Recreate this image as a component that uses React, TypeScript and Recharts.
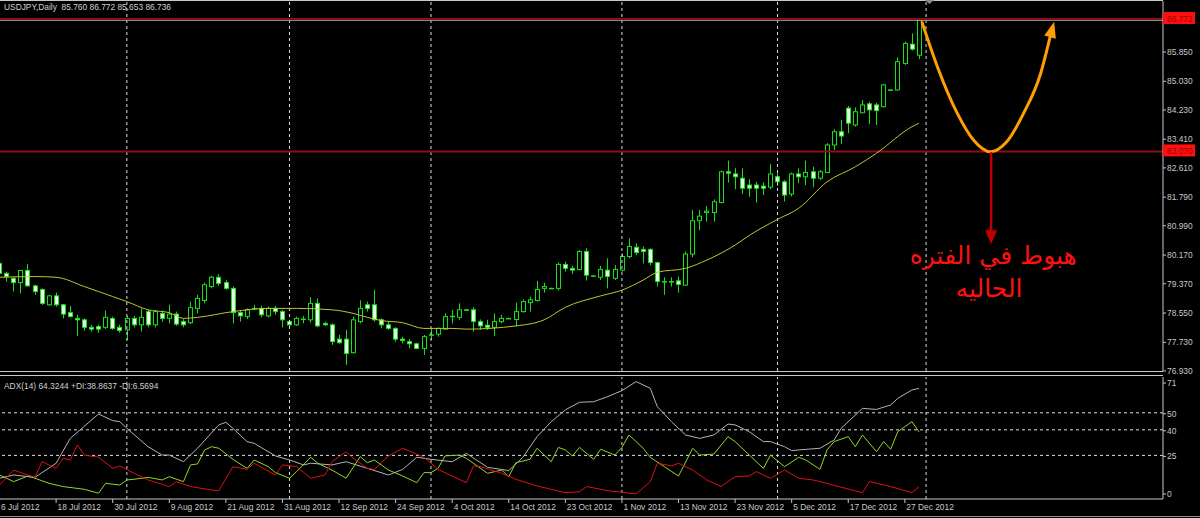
import React from 'react';
import { ComposedChart, Bar, Line, XAxis, YAxis, ReferenceLine, ReferenceDot } from 'recharts';

const SLOTS = 165;

const opens = [79.94,79.66,79.52,79.40,79.74,79.31,79.21,78.78,79.03,78.78,78.56,78.40,78.36,78.15,78.17,78.15,78.40,78.15,78.08,78.40,78.22,78.59,78.22,78.54,78.40,78.52,78.31,78.28,78.68,78.90,79.29,79.55,79.40,79.24,78.56,78.45,78.68,78.68,78.47,78.68,78.59,78.31,78.22,78.38,78.36,78.82,78.26,78.22,77.82,77.82,77.44,78.31,78.78,78.78,78.36,78.22,78.12,77.82,77.75,77.69,77.56,77.93,77.96,78.10,78.45,78.43,78.64,78.64,78.31,78.21,78.15,78.31,78.40,78.37,78.59,78.84,78.90,79.24,79.24,79.24,79.91,79.80,79.77,80.27,79.59,79.55,79.75,79.52,79.75,80.13,80.39,80.33,80.33,79.96,79.43,79.43,79.45,79.33,80.20,81.13,81.36,81.36,81.64,82.50,82.44,82.32,82.13,82.13,82.10,82.07,82.36,82.22,81.88,82.44,82.36,82.50,82.32,82.48,83.25,83.62,84.28,83.81,84.15,84.40,84.37,84.32,84.79,84.79,85.53,86.07,85.76];
const highs = [80.02,79.71,79.55,79.75,79.92,79.34,79.24,79.06,79.12,78.80,78.75,78.50,78.40,78.22,78.22,78.62,78.45,78.22,78.47,78.47,78.68,78.64,78.64,78.62,78.78,78.59,78.38,78.87,79.06,79.40,79.59,79.64,79.47,79.29,78.64,78.68,78.78,78.75,78.73,78.75,78.64,78.36,78.45,78.47,78.99,78.96,78.31,78.26,77.94,78.08,78.45,78.91,78.87,79.20,78.40,78.31,78.15,77.89,77.82,77.72,77.94,78.12,78.15,78.54,78.64,78.82,78.66,78.71,78.37,78.36,78.54,78.50,78.42,78.84,78.93,79.01,79.45,79.40,79.26,79.96,79.99,79.87,80.31,80.36,79.60,79.87,80.08,79.89,80.22,80.64,80.50,80.41,80.36,79.99,79.55,79.55,79.57,80.27,81.43,81.43,81.54,81.73,82.53,82.81,82.60,82.60,82.29,82.22,82.20,82.72,82.50,82.27,82.48,82.60,82.81,82.64,82.55,83.30,83.69,83.95,84.34,84.30,84.51,84.46,84.43,84.96,84.80,85.70,86.14,86.37,86.772];
const lows = [79.62,79.43,79.15,79.10,79.29,79.06,78.78,78.75,78.73,78.40,78.43,77.91,78.06,78.03,78.00,78.10,78.08,78.00,77.80,78.15,78.03,78.15,78.15,78.31,78.26,78.19,78.15,78.24,78.54,78.82,79.24,79.31,79.20,78.26,78.31,78.38,78.64,78.43,78.43,78.50,78.15,78.17,78.19,78.26,78.28,78.15,78.19,77.66,77.69,77.10,77.42,78.26,78.59,78.31,78.12,78.08,77.75,77.70,77.56,77.54,77.38,77.80,77.89,78.08,78.26,78.36,78.62,78.03,78.08,78.08,77.91,78.26,78.38,78.17,78.56,78.59,78.87,79.12,79.22,79.18,79.71,79.64,79.74,79.46,79.57,79.47,79.24,79.47,79.71,80.08,80.17,79.94,79.89,79.29,79.06,79.29,79.12,79.31,80.11,80.87,81.11,81.11,81.62,82.20,82.01,81.88,81.80,81.64,81.85,82.01,82.10,81.67,81.81,82.18,82.13,82.07,82.27,82.46,83.11,83.28,83.58,83.76,84.14,83.84,83.81,84.30,84.77,84.77,85.49,85.89,85.653];
const closes = [79.66,79.57,79.40,79.74,79.31,79.15,78.82,79.03,78.78,78.52,78.45,78.36,78.15,78.10,78.10,78.43,78.12,78.06,78.40,78.22,78.43,78.22,78.59,78.40,78.52,78.24,78.22,78.70,78.96,79.34,79.55,79.38,79.24,78.56,78.47,78.64,78.67,78.50,78.68,78.59,78.36,78.22,78.40,78.37,78.82,78.19,78.22,77.75,77.72,77.42,78.36,78.68,78.68,78.36,78.22,78.12,77.82,77.78,77.69,77.56,77.89,77.94,78.12,78.45,78.46,78.64,78.63,78.31,78.19,78.15,78.31,78.40,78.40,78.59,78.87,78.92,79.21,79.29,79.24,79.91,79.80,79.75,80.27,79.61,79.59,79.77,79.57,79.77,80.13,80.41,80.24,80.27,79.96,79.43,79.42,79.42,79.35,80.20,81.13,81.26,81.40,81.66,82.50,82.46,82.36,82.04,82.04,82.04,82.04,82.44,82.22,81.85,82.44,82.36,82.48,82.32,82.50,83.25,83.62,83.50,83.86,84.18,84.37,84.23,84.21,84.93,84.79,85.58,86.09,85.93,86.736];

const maPoints: [number, number][] = [[0,79.55],[5,79.57],[8,79.55],[12,79.29],[14,79.15],[18,78.87],[21,78.64],[24,78.56],[26,78.40],[28,78.43],[33,78.59],[38,78.68],[42,78.68],[47,78.64],[50,78.54],[52,78.43],[54,78.34],[57,78.28],[60,78.12],[64,78.12],[66,78.10],[73,78.19],[77,78.36],[80,78.71],[85,79.03],[88,79.19],[91,79.47],[93,79.69],[97,79.80],[100,80.03],[104,80.45],[106,80.72],[110,81.17],[113,81.48],[117,82.22],[121,82.64],[124,83.02],[129,83.76],[130,83.86]];

const adxPoints: [number, number][] = [[0,11.6],[2,13.5],[5,12.1],[8,20.4],[10,35.0],[14,49.3],[16,45.4],[17,44.8],[18,40.9],[21,30.1],[23,25.2],[24,25.2],[26,21.3],[28,29.2],[31,42.9],[32,44.4],[33,40.9],[35,33.1],[36,32.1],[39,24.7],[41,22.3],[43,19.4],[44,20.4],[47,19.4],[49,21.3],[52,17.4],[55,13.5],[57,16.8],[59,23.9],[61,22.7],[64,21.3],[66,26.2],[69,18.0],[72,16.1],[74,23.9],[76,36.0],[78,44.8],[80,51.7],[82,56.2],[84,56.5],[86,59.5],[88,63.0],[90,68.3],[92,64.4],[93,53.6],[95,44.8],[97,37.0],[99,35.0],[101,37.0],[103,43.4],[104,42.9],[106,38.9],[108,33.1],[109,33.1],[111,30.1],[112,27.8],[113,28.2],[116,29.2],[118,34.0],[119,40.9],[122,52.6],[124,52.0],[126,54.6],[127,58.5],[129,63.4],[130,64.32]];

const plusDiPoints: [number, number][] = [[0,13.5],[2,9.6],[4,12.9],[5,11.6],[7,8.6],[9,6.7],[12,5.1],[14,2.8],[15,8.6],[17,7.6],[18,10.6],[19,11.0],[21,12.1],[23,10.6],[24,12.5],[26,9.6],[27,19.4],[28,20.0],[29,28.2],[30,30.1],[31,29.2],[33,22.7],[35,17.4],[36,22.3],[38,18.4],[39,14.9],[41,11.6],[42,15.5],[44,23.9],[45,20.4],[47,16.4],[49,11.6],[51,24.3],[52,20.7],[53,22.3],[55,16.4],[57,12.9],[59,9.0],[60,14.9],[61,14.9],[62,17.4],[63,24.7],[65,25.2],[66,23.3],[69,14.5],[71,16.4],[72,12.5],[73,20.7],[75,22.7],[76,29.2],[78,21.3],[79,29.7],[80,28.2],[81,24.7],[82,29.7],[84,22.7],[85,28.6],[87,25.2],[88,29.7],[89,37.0],[91,29.2],[92,23.9],[94,18.4],[96,12.9],[98,29.2],[99,25.2],[101,25.8],[103,36.0],[104,33.1],[106,25.2],[108,17.4],[109,25.2],[111,18.4],[113,23.9],[114,22.3],[116,16.8],[117,28.2],[118,33.1],[120,36.0],[121,30.1],[122,37.0],[124,27.2],[125,33.1],[126,28.6],[127,38.9],[129,44.8],[130,38.86]];

const minusDiPoints: [number, number][] = [[0,7.6],[2,16.4],[5,12.1],[6,21.3],[8,17.4],[9,23.3],[10,22.3],[11,31.1],[12,25.2],[14,23.9],[16,17.4],[17,18.8],[19,14.5],[21,10.6],[24,6.7],[25,9.6],[27,6.7],[30,4.7],[31,4.3],[33,18.4],[35,16.8],[36,20.4],[39,13.5],[40,19.4],[42,18.4],[44,11.6],[46,13.5],[47,21.3],[49,27.2],[50,23.3],[52,17.4],[53,16.8],[55,24.7],[57,29.2],[60,23.9],[62,16.8],[66,9.0],[67,18.8],[68,18.4],[71,14.5],[73,11.0],[76,7.1],[80,3.1],[82,3.7],[83,6.7],[86,4.3],[90,2.4],[92,9.6],[93,20.4],[95,18.8],[96,20.4],[98,16.4],[100,10.6],[102,6.7],[104,12.5],[106,12.9],[107,15.5],[109,11.6],[111,16.4],[113,11.6],[115,10.6],[116,9.6],[122,3.1],[123,9.6],[126,6.7],[129,3.1],[130,6.57]];

const priceTicks = [85.85, 85.03, 84.23, 83.41, 82.61, 81.79, 80.99, 80.17, 79.37, 78.55, 77.73, 76.93];
const markedLevels = [86.772, 83.07];
const bidPrice = 86.736;
const adxTicks = [0, 25, 40, 50, 71];
const adxLevels = [25, 40, 50];
const dateTicks = [0, 8, 16, 24, 32, 40, 48, 56, 64, 72, 80, 88, 96, 104, 112, 120, 128];
const dateLabels = ['6 Jul 2012', '18 Jul 2012', '30 Jul 2012', '9 Aug 2012', '21 Aug 2012', '31 Aug 2012', '12 Sep 2012', '24 Sep 2012', '4 Oct 2012', '14 Oct 2012', '23 Oct 2012', '1 Nov 2012', '13 Nov 2012', '23 Nov 2012', '5 Dec 2012', '17 Dec 2012', '27 Dec 2012'];
const monthStarts = [18, 41, 61, 88, 110, 131];

const curvePoints: [number, number][] = [[130.4,86.70],[132.6,85.44],[135.4,84.14],[137.7,83.39],[140.1,83.06],[142.4,83.34],[144.8,84.14],[147.2,85.25],[148.6,86.32]];
const dropArrow: [number, number][] = [[140.2,83.05],[140.2,80.84]];
const noteLines = ['هبوط في الفتره', 'الحاليه'];
const notePos: [number, number][] = [[140.5, 79.92], [139.9, 79.0]];

const headerText = 'USDJPY,Daily  85.760 86.772 85.653 86.736';
const adxText = 'ADX(14) 64.3244 +DI:38.8637 -DI:6.5694';

const rows = Array.from({ length: SLOTS }, (_, k) =>
  k < opens.length ? { k, o: opens[k], h: highs[k], l: lows[k], c: closes[k] } : { k }
);
const toXY = (pts: [number, number][]) => pts.map(([k, v]) => ({ k, v }));

const FONT = '"Liberation Sans", Arial, sans-serif';
const TXT = '#c8c8c8';
const GREEN = '#18e018';
const BEAR_FILL = '#e6ffe6';
const GRID = '#dcdcdc';

function Candle(props: any) {
  const { x, y, width, height, payload } = props;
  if (!payload || payload.h == null) return <g />;
  const { o, h, l, c } = payload;
  const top0 = Math.min(y, y + height);
  const hh = Math.abs(height);
  const cx = Math.floor(x + width / 2) + 0.5;
  const py = (p: number) => top0 + ((h - p) / (h - l)) * hh;
  const bt = py(Math.max(o, c));
  const bb = py(Math.min(o, c));
  const bull = c >= o;
  return (
    <g>
      <line x1={cx} x2={cx} y1={top0} y2={top0 + hh} stroke={GREEN} strokeWidth={1} />
      <rect x={cx - 2} y={bt} width={4} height={Math.max(bb - bt, 0.5)} fill={bull ? '#000' : BEAR_FILL} stroke={GREEN} strokeWidth={1} />
    </g>
  );
}

function PriceTick(props: any) {
  const { x, y, payload } = props;
  const v = payload.value as number;
  const marked = markedLevels.includes(v);
  return (
    <g>
      {marked ? (
        <rect x={x - 4} y={y - 7} width={32} height={12} fill="#ff1010" />
      ) : (
        <line x1={x - 4} x2={x - 1} y1={y} y2={y} stroke={TXT} />
      )}
      <text x={x} y={y} dy="0.35em" fill={marked ? '#a00000' : TXT} fontSize={8.4} fontFamily={FONT} textAnchor="start">
        {v.toFixed(3)}
      </text>
    </g>
  );
}

function AdxTick(props: any) {
  const { x, y, payload } = props;
  const v = payload.value as number;
  const nudge = v === 71 ? 6 : v === 0 ? -4 : 1;
  return (
    <g>
      <line x1={x - 4} x2={x - 1} y1={y + nudge} y2={y + nudge} stroke={TXT} />
      <text x={x} y={y + nudge} dy="0.35em" fill={TXT} fontSize={8.4} fontFamily={FONT} textAnchor="start">
        {String(v)}
      </text>
    </g>
  );
}

function DateTick(props: any) {
  const { x, y, payload } = props;
  const i = dateTicks.indexOf(payload.value);
  return (
    <g>
      <line x1={x} x2={x} y1={y} y2={y + 4} stroke={TXT} />
      <text x={x + 1.5} y={y + 8} dy="0.35em" fill={TXT} fontSize={8.4} fontFamily={FONT} textAnchor="start">
        {dateLabels[i]}
      </text>
    </g>
  );
}

const curveDot = (props: any) => {
  const { cx, cy, index } = props;
  if (index !== curvePoints.length - 1 || cx == null) return <g key={`c${index}`} />;
  return <polygon key="head" points="0,-14 -6,2 6,2" transform={`translate(${cx},${cy}) rotate(15)`} fill="#ffa000" />;
};

const dropDot = (props: any) => {
  const { cx, cy, index } = props;
  if (index !== dropArrow.length - 1 || cx == null) return <g key={`d${index}`} />;
  return <polygon key="dhead" points="0,13 -6,-1 6,-1" transform={`translate(${cx},${cy})`} fill="#c00000" />;
};

export default function App() {
  return (
    <div style={{ position: 'fixed', left: 0, top: 0, width: 1200, height: 518, background: '#000', overflow: 'hidden' }}>
      <div style={{ position: 'absolute', left: -4, top: 376 }}>
        <ComposedChart width={1204} height={142} data={rows} margin={{ top: 1, right: 0, bottom: 0, left: 0 }}>
          <XAxis
            xAxisId="num"
            dataKey="k"
            type="number"
            domain={[-0.5, SLOTS - 0.5]}
            allowDataOverflow
            ticks={dateTicks}
            interval={0}
            tick={(p: any) => <DateTick {...p} />}
            tickLine={false}
            tickSize={0}
            tickMargin={0}
            height={19}
            axisLine={{ stroke: TXT }}
          />
          <YAxis
            yAxisId="a"
            orientation="right"
            width={37}
            domain={[-0.587, 71.01]}
            allowDataOverflow
            ticks={adxTicks}
            interval={0}
            tick={(p: any) => <AdxTick {...p} />}
            tickLine={false}
            tickSize={4}
            tickMargin={0}
            axisLine={{ stroke: TXT }}
          />
          {adxLevels.map((lv) => (
            <ReferenceLine key={`l${lv}`} xAxisId="num" yAxisId="a" y={lv} stroke={GRID} strokeDasharray="3 3" />
          ))}
          {monthStarts.map((m) => (
            <ReferenceLine key={`ag${m}`} xAxisId="num" yAxisId="a" x={m} stroke={GRID} strokeDasharray="3 3" />
          ))}
          <Line xAxisId="num" yAxisId="a" data={toXY(adxPoints)} dataKey="v" type="linear" stroke="#b4b4b4" strokeWidth={1} dot={false} isAnimationActive={false} />
          <Line xAxisId="num" yAxisId="a" data={toXY(plusDiPoints)} dataKey="v" type="linear" stroke="#8ed82a" strokeWidth={1} dot={false} isAnimationActive={false} />
          <Line xAxisId="num" yAxisId="a" data={toXY(minusDiPoints)} dataKey="v" type="linear" stroke="#e01010" strokeWidth={1} dot={false} isAnimationActive={false} />
        </ComposedChart>
      </div>
      <div style={{ position: 'absolute', left: -4, top: 0 }}>
        <ComposedChart width={1204} height={378} data={rows} margin={{ top: 1, right: 0, bottom: 7, left: 0 }}>
          <XAxis xAxisId="cat" dataKey="k" type="category" hide />
          <XAxis xAxisId="num" dataKey="k" type="number" domain={[-0.5, SLOTS - 0.5]} allowDataOverflow hide />
          <YAxis
            yAxisId="p"
            orientation="right"
            width={37}
            domain={[76.929, 87.276]}
            allowDataOverflow
            ticks={[...priceTicks, ...markedLevels]}
            interval={0}
            tick={(p: any) => <PriceTick {...p} />}
            tickLine={false}
            tickSize={4}
            tickMargin={0}
            axisLine={{ stroke: TXT }}
          />
          {monthStarts.map((m) => (
            <ReferenceLine key={`g${m}`} xAxisId="num" yAxisId="p" x={m} stroke={GRID} strokeDasharray="3 3" />
          ))}
          <ReferenceLine xAxisId="num" yAxisId="p" y={bidPrice} stroke="#a8a8a8" strokeWidth={1} />
          {markedLevels.map((lv) => (
            <ReferenceLine key={`r${lv}`} xAxisId="num" yAxisId="p" y={lv} stroke="#8c1010" strokeWidth={2} />
          ))}
          <Bar
            xAxisId="cat"
            yAxisId="p"
            dataKey={(d: any) => (d.h != null ? [d.l, d.h] : null)}
            shape={(p: any) => <Candle {...p} />}
            isAnimationActive={false}
          />
          <Line xAxisId="num" yAxisId="p" data={toXY(maPoints)} dataKey="v" type="monotone" stroke="#c4c430" strokeWidth={1} dot={false} isAnimationActive={false} />
          <Line xAxisId="num" yAxisId="p" data={toXY(curvePoints)} dataKey="v" type="monotone" stroke="#ffa000" strokeWidth={3} dot={curveDot} isAnimationActive={false} />
          <Line xAxisId="num" yAxisId="p" data={toXY(dropArrow)} dataKey="v" type="linear" stroke="#c00000" strokeWidth={2.5} dot={dropDot} isAnimationActive={false} />
          {noteLines.map((t, i) => (
            <ReferenceDot
              key={`n${i}`}
              xAxisId="num"
              yAxisId="p"
              x={notePos[i][0]}
              y={notePos[i][1]}
              r={0}
              ifOverflow="visible"
              shape={(p: any) => (
                <text x={p.cx} y={p.cy} textAnchor="middle" direction="rtl" fill="#ff1010" fontSize={25} fontFamily='"DejaVu Sans", sans-serif'>
                  {t}
                </text>
              )}
            />
          ))}
        </ComposedChart>
      </div>
      <div style={{ position: 'absolute', left: 0, top: 0, width: 1163, height: 1, background: TXT }} />
      <div style={{ position: 'absolute', left: 0, top: 371, width: 1163, height: 1, background: TXT }} />
      <div style={{ position: 'absolute', left: 0, top: 375, width: 1163, height: 1, background: TXT }} />
      <div style={{ position: 'absolute', left: 0, top: 516, width: 1200, height: 1, background: '#909090' }} />
      <svg style={{ position: 'absolute', left: 0, top: 0 }} width={1200} height={6}>
        <polygon points="925,0 934,0 929.5,4" fill="#8a8a8a" />
      </svg>
      <div style={{ position: 'absolute', left: 4, top: 2, fontFamily: FONT, fontSize: 8.4, lineHeight: '10px', color: '#d0d0d0', whiteSpace: 'pre' }}>
        {headerText}
      </div>
      <div style={{ position: 'absolute', left: 4, top: 381, fontFamily: FONT, fontSize: 8.4, lineHeight: '10px', color: '#d0d0d0', whiteSpace: 'pre' }}>
        {adxText}
      </div>
    </div>
  );
}
